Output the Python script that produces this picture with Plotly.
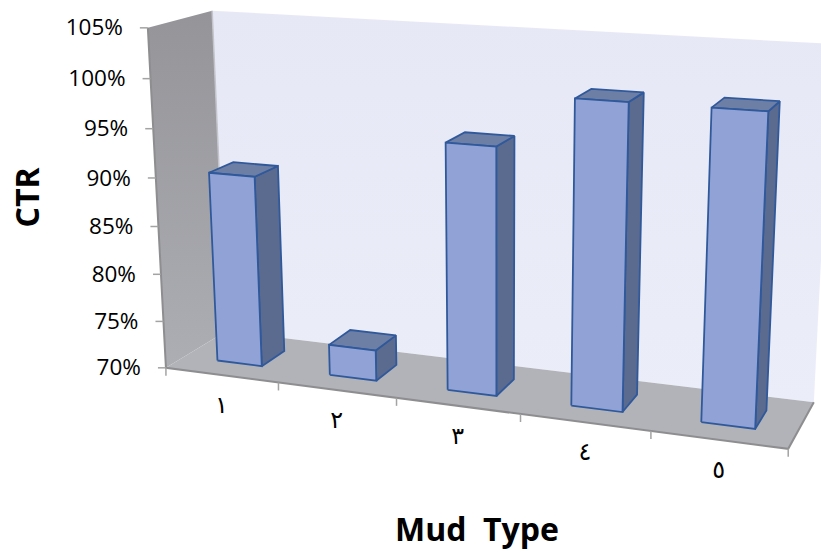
import numpy as np
import plotly.graph_objects as go

# ---- data ----
categories = ["١", "٢", "٣", "٤", "٥"]
ctr_values = [90.0, 73.2, 95.0, 100.1, 100.1]
y_ticks = [70, 75, 80, 85, 90, 95, 100, 105]
y_labels = ["70%", "75%", "80%", "85%", "90%", "95%", "100%", "105%"]

Y_MIN, Y_MAX = 70.0, 105.0
BAR_WIDTH = 0.40
BAR_D0, BAR_D1 = 0.30, 0.70

# ---- perspective camera, fitted to the box corners of the 3-D plot ----
box_model = [(0, 0, 0), (1, 0, 0), (0, 1, 0), (0, 0, 1), (1, 0, 1), (0, 1, 1), (1, 1, 1)]
box_image = [(166, 368), (788, 449), (148, 27.5), (226, 331), (814, 402), (212, 11), (832, 44)]


def fit_camera(model, image):
    rows, rhs = [], []
    for (X, Y, Z), (u, v) in zip(model, image):
        rows.append([X, Y, Z, 1, 0, 0, 0, 0, -u * X, -u * Y, -u * Z]); rhs.append(u)
        rows.append([0, 0, 0, 0, X, Y, Z, 1, -v * X, -v * Y, -v * Z]); rhs.append(v)
    sol = np.linalg.lstsq(np.array(rows, float), np.array(rhs, float), rcond=None)[0]
    return np.append(sol, 1.0).reshape(3, 4)


CAM = fit_camera(box_model, box_image)


def project(cat, val, depth):
    """cat in category units (0..n), val in % , depth 0 (front)..1 (back)."""
    p = CAM @ np.array([cat / len(categories), (val - Y_MIN) / (Y_MAX - Y_MIN), depth, 1.0])
    return p[0] / p[2], p[1] / p[2]


fig = go.Figure()


def poly(points, fill=None, line=None, width=0, gradient=None, close=True):
    pts = list(points) + ([points[0]] if close else [])
    kw = dict(
        x=[p[0] for p in pts], y=[p[1] for p in pts], mode="lines",
        line=dict(color=line or "rgba(0,0,0,0)", width=width, shape="linear"),
        hoverinfo="skip", showlegend=False,
    )
    if fill or gradient:
        kw["fill"] = "toself"
        kw["fillcolor"] = fill
    if gradient:
        kw["fillgradient"] = gradient
    fig.add_trace(go.Scatter(**kw))


n = len(categories)
# back wall
poly([project(0, Y_MIN, 1), project(n, Y_MIN, 1), project(n, Y_MAX, 1), project(0, Y_MAX, 1)],
     fill="#E8EAF6",
     gradient=dict(type="vertical", colorscale=[[0, "#EBEDF9"], [1, "#E6E8F5"]]))
# left wall
poly([project(0, Y_MIN, 0), project(0, Y_MIN, 1), project(0, Y_MAX, 1), project(0, Y_MAX, 0)],
     fill="#9A9AA0",
     gradient=dict(type="vertical", colorscale=[[0, "#ADAEB3"], [1, "#949499"]]))
# light seam between the walls
poly([project(0, Y_MIN, 1), project(0, Y_MAX, 1)], line="#C4C5CC", width=1.5, close=False)
# floor
poly([project(0, Y_MIN, 0), project(n, Y_MIN, 0), project(n, Y_MIN, 1), project(0, Y_MIN, 1)],
     fill="#B1B3B8")
# box edges
poly([project(0, Y_MAX, 0), project(0, Y_MIN, 0), project(n, Y_MIN, 0), project(n, Y_MIN, 1)],
     line="#8E8E90", width=2, close=False)

# y ticks and labels
tick_xs, tick_ys, lab_x, lab_y = [], [], [], []
for t in y_ticks:
    x, y = project(0, t, 0)
    tick_xs += [x - 8, x, None]
    tick_ys += [y, y, None]
    lab_x.append(x - 25)
    lab_y.append(y + 2)
fig.add_trace(go.Scatter(x=tick_xs, y=tick_ys, mode="lines", line=dict(color="#A3A3A3", width=1.5),
                         hoverinfo="skip", showlegend=False))
fig.add_trace(go.Scatter(x=lab_x, y=lab_y, mode="text", text=y_labels, textposition="middle left",
                         textfont=dict(family="Open Sans", size=22.5, color="#000000"),
                         hoverinfo="skip", showlegend=False))

# x ticks and labels
tick_xs, tick_ys = [], []
for i in range(n + 1):
    x, y = project(i, Y_MIN, 0)
    tick_xs += [x, x, None]
    tick_ys += [y, y + 8, None]
fig.add_trace(go.Scatter(x=tick_xs, y=tick_ys, mode="lines", line=dict(color="#A3A3A3", width=1.5),
                         hoverinfo="skip", showlegend=False))
lab = [project(i + 0.5, Y_MIN, 0) for i in range(n)]
fig.add_trace(go.Scatter(x=[p[0] for p in lab], y=[p[1] + 32 for p in lab], mode="text", text=categories,
                         textposition="middle center",
                         textfont=dict(family="DejaVu Sans", size=24, color="#000000"),
                         hoverinfo="skip", showlegend=False))

# bars
EDGE = "#30599B"
for i, v in enumerate(ctr_values):
    x0, x1 = i + 0.5 - BAR_WIDTH / 2, i + 0.5 + BAR_WIDTH / 2
    # right side
    poly([project(x1, Y_MIN, BAR_D0), project(x1, Y_MIN, BAR_D1), project(x1, v, BAR_D1), project(x1, v, BAR_D0)],
         fill="#5B6A8F", line=EDGE, width=1.8)
    # top
    poly([project(x0, v, BAR_D0), project(x1, v, BAR_D0), project(x1, v, BAR_D1), project(x0, v, BAR_D1)],
         fill="#6E7FA6", line=EDGE, width=1.8)
    # front
    poly([project(x0, Y_MIN, BAR_D0), project(x1, Y_MIN, BAR_D0), project(x1, v, BAR_D0), project(x0, v, BAR_D0)],
         fill="#91A3D6", line=EDGE, width=1.8)

fig.update_layout(
    width=821, height=552, margin=dict(l=0, r=0, t=0, b=0),
    paper_bgcolor="#FFFFFF", plot_bgcolor="#FFFFFF", showlegend=False,
    xaxis=dict(range=[0, 821], visible=False, fixedrange=True),
    yaxis=dict(range=[552, 0], visible=False, fixedrange=True),
    annotations=[
        dict(text="Mud\u00a0\u00a0Type", x=477, y=528, xref="x", yref="y", showarrow=False,
             font=dict(family="Open Sans", size=32, color="#000000", weight="bold")),
        dict(text="CTR", x=26, y=197.5, xref="x", yref="y", showarrow=False, textangle=-90,
             font=dict(family="Open Sans", size=32, color="#000000", weight="bold")),
    ],
)
fig.write_html("out.html", config=dict(displayModeBar=False),
               post_script="document.body.style.margin='0';")
